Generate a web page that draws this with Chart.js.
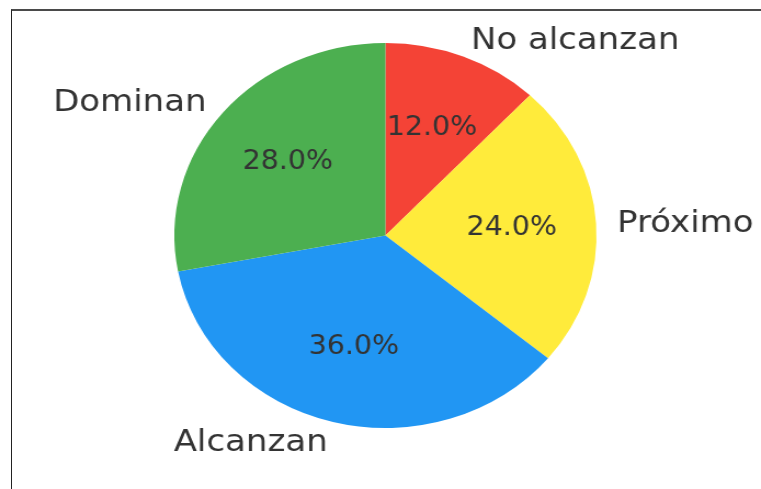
<!DOCTYPE html>
<html>
<head>
<meta charset="utf-8">
<script src="https://cdn.jsdelivr.net/npm/chart.js@4/dist/chart.umd.min.js"></script>
<style>
    html, body {
        margin: 0;
        padding: 0;
        background: #ffffff;
        overflow: hidden;
    }
    #frame {
        position: absolute;
        left: 11px;
        top: 9px;
        width: 800px;
        height: 600px;
        border-left: 1px solid #222222;
        border-top: 2px solid #4a4a4a;
    }
    #wrap {
        position: absolute;
        left: 0;
        top: 0;
        width: 694px;
        height: 489px;
        transform: scaleX(1.0965);
        transform-origin: 0 0;
    }
</style>
</head>
<body>
<div id="frame"></div>
<div id="wrap"><canvas id="pieChart"></canvas></div>
<script>
const categories = ['No alcanzan', 'Próximo', 'Alcanzan', 'Dominan'];
const shares = [12, 24, 36, 28];
const sliceColors = ['#F44336', '#FFEB3B', '#2196F3', '#4CAF50'];

const textColor = '#333333';
const labelFont = '31px "DejaVu Sans"';
const pctFont = '26px "DejaVu Sans"';

// matplotlib-style labels: names outside at 1.1r, percentages inside at 0.6r
const sliceLabels = {
    id: 'sliceLabels',
    afterDatasetsDraw(chart) {
        const ctx = chart.ctx;
        const meta = chart.getDatasetMeta(0);
        const total = shares.reduce((a, b) => a + b, 0);
        ctx.save();
        ctx.fillStyle = textColor;
        ctx.textBaseline = 'middle';
        meta.data.forEach((arc, i) => {
            const p = arc.getProps(['x', 'y', 'startAngle', 'endAngle', 'outerRadius'], true);
            const mid = (p.startAngle + p.endAngle) / 2;
            const cos = Math.cos(mid);
            const sin = Math.sin(mid);

            ctx.font = labelFont;
            ctx.textAlign = cos >= 0 ? 'left' : 'right';
            ctx.fillText(categories[i], p.x + cos * p.outerRadius * 1.1, p.y + sin * p.outerRadius * 1.1 + 2);

            ctx.font = pctFont;
            ctx.textAlign = 'center';
            const pct = (shares[i] / total * 100).toFixed(1) + '%';
            ctx.fillText(pct, p.x + cos * p.outerRadius * 0.6, p.y + sin * p.outerRadius * 0.6);
        });
        ctx.restore();
    }
};

new Chart(document.getElementById('pieChart'), {
    type: 'pie',
    data: {
        labels: categories,
        datasets: [{
            data: shares,
            backgroundColor: sliceColors,
            borderWidth: 0
        }]
    },
    options: {
        responsive: true,
        maintainAspectRatio: false,
        animation: false,
        layout: {
            padding: { top: 43, bottom: 61, left: 9, right: 0 }
        },
        plugins: {
            legend: { display: false },
            tooltip: { enabled: false },
            title: { display: false }
        }
    },
    plugins: [sliceLabels]
});
</script>
</body>
</html>
